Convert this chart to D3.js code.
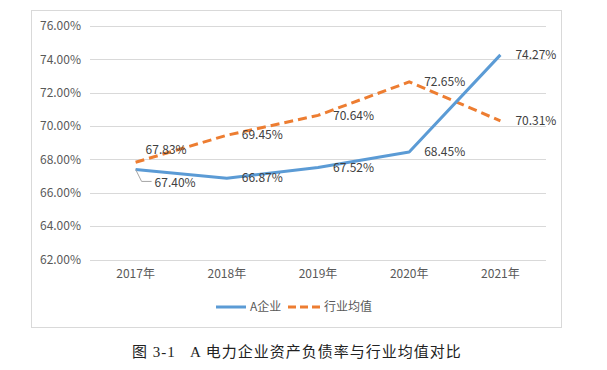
<!DOCTYPE html>
<html>
<head>
<meta charset="utf-8">
<script src="https://cdn.jsdelivr.net/npm/d3@7"></script>
<style>
  body { margin: 0; background: #fff; }
  svg { display: block; }
  text { font-family: "Noto Sans CJK SC", "Open Sans", sans-serif; }
</style>
</head>
<body>
<svg id="chart"></svg>
<script>
// data
var years = ["2017年", "2018年", "2019年", "2020年", "2021年"];
var companyA = [67.40, 66.87, 67.52, 68.45, 74.27];
var industryAvg = [67.83, 69.45, 70.64, 72.65, 70.31];
var yTicks = [62, 64, 66, 68, 70, 72, 74, 76];
var seriesNames = ["A企业", "行业均值"];
var caption = "图 3-1\u00a0\u00a0\u00a0A 电力企业资产负债率与行业均值对比";

var width = 607, height = 370;
var svg = d3.select("#chart").attr("width", width).attr("height", height);

// chart frame
svg.append("rect")
  .attr("x", 31.5).attr("y", 10.5)
  .attr("width", 530).attr("height", 317)
  .attr("fill", "#fff")
  .attr("stroke", "#d9d9d9");

var x = d3.scaleBand().domain(years).range([90, 546]);
var y = d3.scaleLinear().domain([62, 76]).range([259.5, 26]);

// grid lines
svg.append("g").selectAll("line")
  .data(yTicks).enter().append("line")
  .attr("x1", 90).attr("x2", 546)
  .attr("y1", function (d) { return Math.round(y(d)) + 0.5; })
  .attr("y2", function (d) { return Math.round(y(d)) + 0.5; })
  .attr("stroke", "#d9d9d9");

// y axis labels
var yAxis = d3.axisLeft(y).tickValues(yTicks).tickSize(0).tickPadding(9)
  .tickFormat(function (d) { return d.toFixed(2) + "%"; });
var gy = svg.append("g").attr("transform", "translate(90,0)").call(yAxis);
gy.select(".domain").remove();
gy.selectAll("text").style("font-size", "12px").attr("fill", "#595959")
  .style("font-family", "'Noto Sans CJK SC', sans-serif");

// x axis labels
var xAxis = d3.axisBottom(x).tickSize(0).tickPadding(10);
var gx = svg.append("g").attr("transform", "translate(0,259.5)").call(xAxis);
gx.select(".domain").remove();
gx.selectAll("text").style("font-size", "12px").attr("fill", "#595959")
  .style("font-family", "'Noto Sans CJK SC', sans-serif");

function cx(i) { return x(years[i]) + x.bandwidth() / 2; }

var line = d3.line()
  .x(function (d, i) { return cx(i); })
  .y(function (d) { return y(d); });

svg.append("path")
  .attr("d", line(industryAvg))
  .attr("fill", "none")
  .attr("stroke", "#ed7d31")
  .attr("stroke-width", 3)
  .attr("stroke-dasharray", "9,5");

svg.append("path")
  .attr("d", line(companyA))
  .attr("fill", "none")
  .attr("stroke", "#5b9bd5")
  .attr("stroke-width", 3)
  .attr("stroke-linejoin", "round");

// data labels
function labels(values, first) {
  svg.append("g").selectAll("text")
    .data(values).enter().append("text")
    .attr("x", function (d, i) { return i === 0 ? cx(i) + first[0] : cx(i) + 15; })
    .attr("y", function (d, i) { return i === 0 ? y(d) + first[1] : y(d); })
    .attr("dy", "0.35em")
    .style("font-size", "12px")
    .attr("fill", "#404040")
    .text(function (d) { return d.toFixed(2) + "%"; });
}
labels(industryAvg, [10, -12]);
labels(companyA, [19, 13]);

// leader line for first blue label
svg.append("polyline")
  .attr("points", [[cx(0), y(companyA[0])], [cx(0) + 6, y(companyA[0]) + 12], [cx(0) + 16, y(companyA[0]) + 12]]
    .map(function (p) { return p.join(","); }).join(" "))
  .attr("fill", "none")
  .attr("stroke", "#a6a6a6")
  .attr("stroke-width", 1);

// legend
var legend = svg.append("g");
legend.append("line")
  .attr("x1", 216).attr("x2", 246).attr("y1", 307).attr("y2", 307)
  .attr("stroke", "#5b9bd5").attr("stroke-width", 3);
legend.append("text")
  .attr("x", 250).attr("y", 307).attr("dy", "0.35em")
  .style("font-size", "12px").attr("fill", "#595959")
  .text(seriesNames[0]);
legend.append("line")
  .attr("x1", 288).attr("x2", 320).attr("y1", 307).attr("y2", 307)
  .attr("stroke", "#ed7d31").attr("stroke-width", 3)
  .attr("stroke-dasharray", "8,4");
legend.append("text")
  .attr("x", 324).attr("y", 307).attr("dy", "0.35em")
  .style("font-size", "12px").attr("fill", "#595959")
  .text(seriesNames[1]);

// caption
svg.append("text")
  .attr("x", 132).attr("y", 352).attr("dy", "0.35em")
  .style("font-family", "'Liberation Serif', 'Noto Sans CJK SC', serif")
  .style("font-size", "15px")
  .style("letter-spacing", "1px")
  .attr("fill", "#222")
  .text(caption);
</script>
</body>
</html>
